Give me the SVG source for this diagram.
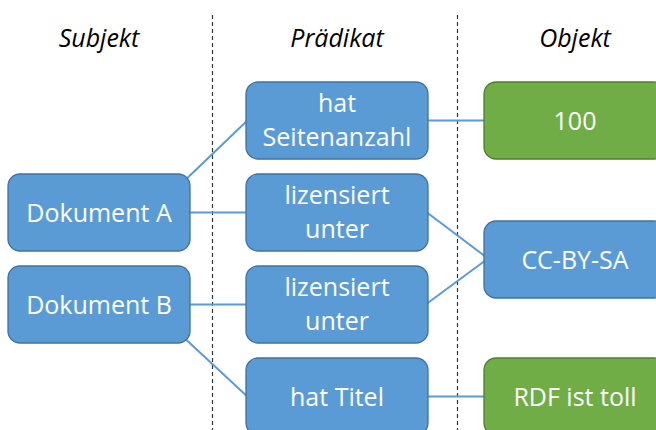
<svg xmlns="http://www.w3.org/2000/svg" width="656" height="430" viewBox="0 0 656 430">
  <style>
    .head { font-family: "Open Sans", "Noto Sans", sans-serif; font-style: italic; font-size: 25px; fill: #000; text-anchor: middle; }
    .lbl { font-family: "Open Sans", "Noto Sans", sans-serif; font-size: 25px; fill: #fff; text-anchor: middle; }
    .pred { fill: #5B9BD5; stroke: #41719C; stroke-width: 1.3; }
    .obj { fill: #70AD47; stroke: #507E32; stroke-width: 1.3; }
    .sep { stroke: #333; stroke-width: 1.2; stroke-dasharray: 4 3; fill: none; }
    .edge { stroke: #5B9BD5; stroke-width: 2; fill: none; }
  </style>

  <rect width="656" height="430" fill="#fff"/>

  <!-- column separators -->
  <g id="separators">
    <line class="sep" x1="212.5" y1="15" x2="212.5" y2="430"/>
    <line class="sep" x1="457.5" y1="15" x2="457.5" y2="430"/>
  </g>

  <!-- column headings -->
  <g id="headings">
    <text class="head" x="99" y="47">Subjekt</text>
    <text class="head" x="337" y="47">Prädikat</text>
    <text class="head" x="575" y="47">Objekt</text>
  </g>

  <!-- connectors -->
  <g id="connectors">
    <line class="edge" x1="180" y1="185" x2="250" y2="118"/>
    <line class="edge" x1="185" y1="212.5" x2="250" y2="212.5"/>
    <line class="edge" x1="185" y1="304.5" x2="250" y2="304.5"/>
    <line class="edge" x1="180" y1="334" x2="250" y2="399"/>
    <line class="edge" x1="425" y1="120.5" x2="488" y2="120.5"/>
    <line class="edge" x1="425" y1="211" x2="488" y2="258.5"/>
    <line class="edge" x1="425" y1="305" x2="488" y2="258.5"/>
    <line class="edge" x1="425" y1="396.5" x2="488" y2="396.5"/>
  </g>

  <!-- subjects -->
  <g id="dokument-a">
    <rect class="pred" x="8" y="174" width="182" height="77" rx="12"/>
    <text class="lbl" x="99" y="221.5">Dokument A</text>
  </g>
  <g id="dokument-b">
    <rect class="pred" x="8" y="266" width="182" height="77" rx="12"/>
    <text class="lbl" x="99" y="313.5">Dokument B</text>
  </g>

  <!-- predicates -->
  <g id="hat-seitenanzahl">
    <rect class="pred" x="246" y="82" width="182" height="77" rx="12"/>
    <text class="lbl" x="337" y="112">hat</text>
    <text class="lbl" x="337" y="146">Seitenanzahl</text>
  </g>
  <g id="lizensiert-unter-1">
    <rect class="pred" x="246" y="174" width="182" height="77" rx="12"/>
    <text class="lbl" x="337" y="204">lizensiert</text>
    <text class="lbl" x="337" y="238">unter</text>
  </g>
  <g id="lizensiert-unter-2">
    <rect class="pred" x="246" y="266" width="182" height="77" rx="12"/>
    <text class="lbl" x="337" y="296">lizensiert</text>
    <text class="lbl" x="337" y="330">unter</text>
  </g>
  <g id="hat-titel">
    <rect class="pred" x="246" y="358" width="182" height="77" rx="12"/>
    <text class="lbl" x="337" y="405.5">hat Titel</text>
  </g>

  <!-- objects -->
  <g id="wert-100">
    <rect class="obj" x="484" y="82" width="182" height="77" rx="12"/>
    <text class="lbl" x="575" y="129.5">100</text>
  </g>
  <g id="cc-by-sa">
    <rect class="pred" x="484" y="221" width="182" height="77" rx="12"/>
    <text class="lbl" x="575" y="268.5">CC-BY-SA</text>
  </g>
  <g id="rdf-ist-toll">
    <rect class="obj" x="484" y="358" width="182" height="77" rx="12"/>
    <text class="lbl" x="575" y="405.5">RDF ist toll</text>
  </g>
</svg>
